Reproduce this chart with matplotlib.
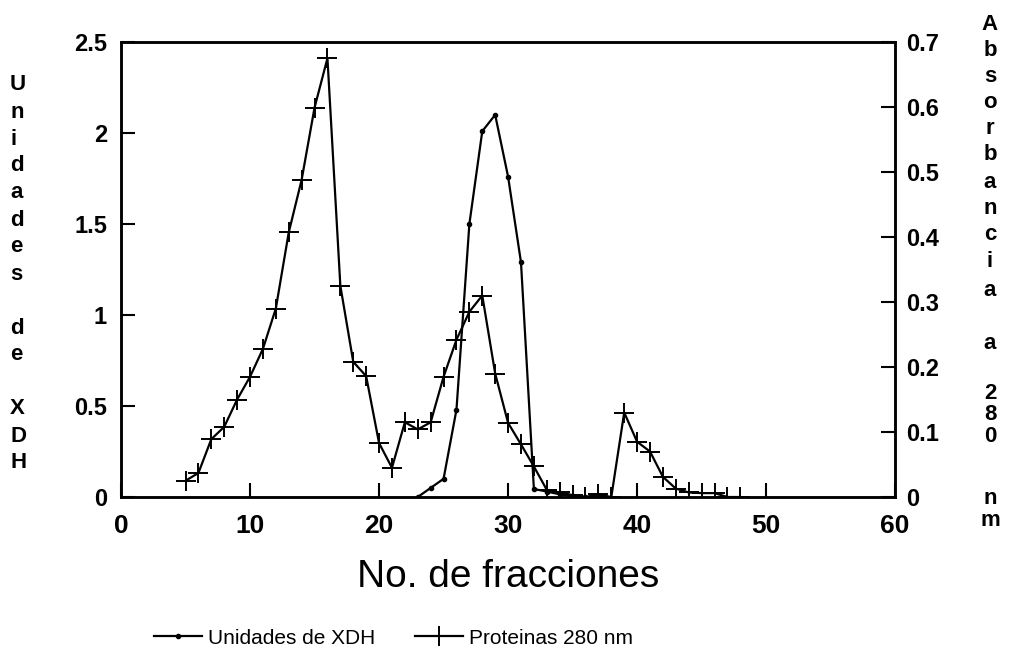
import matplotlib
matplotlib.use('Agg')
import matplotlib.pyplot as plt
import numpy as np

# Fracciones con actividad de XDH y su valor
xdh_frac = [23, 24, 25, 26, 27, 28, 29, 30, 31, 32, 33, 34, 35, 36, 37]
xdh_units = [0.0, 0.05, 0.10, 0.48, 1.50, 2.01, 2.10, 1.76, 1.29, 0.044, 0.03, 0.015, 0.005, 0.0, 0.0]

# Fracciones con absorbancia a 280 nm (proteinas)
prot_frac = list(range(5, 49))
prot_abs = [0.025, 0.037, 0.089, 0.108, 0.150, 0.185, 0.228, 0.290, 0.407, 0.488,
            0.599, 0.675, 0.325, 0.208, 0.186, 0.083, 0.045, 0.115, 0.104, 0.115,
            0.185, 0.242, 0.285, 0.310, 0.190, 0.114, 0.081, 0.047, 0.011, 0.007,
            0.003, 0.0, 0.004, 0.0, 0.130, 0.085, 0.070, 0.031, 0.013, 0.007,
            0.006, 0.006, 0.0, 0.0]

left_ticks = [0, 0.5, 1, 1.5, 2, 2.5]
left_tick_labels = ['0', '0.5', '1', '1.5', '2', '2.5']
right_ticks = [0, 0.1, 0.2, 0.3, 0.4, 0.5, 0.6, 0.7]
right_tick_labels = ['0', '0.1', '0.2', '0.3', '0.4', '0.5', '0.6', '0.7']
x_ticks = [0, 10, 20, 30, 40, 50, 60]

left_label = 'Unidades de XDH'
right_label = ['A', 'b', 's', 'o', 'r', 'b', 'a', 'n', 'c', 'i', 'a', ' ', 'a', ' ',
               '2', '8', '0', ' ', ' ', 'n', 'm']

plt.rcParams['font.family'] = ['Liberation Sans', 'DejaVu Sans']

fig = plt.figure(figsize=(10.1, 6.65), dpi=100, facecolor='white')
ax = fig.add_axes([0.1198, 0.2526, 0.7665, 0.6842])
ax2 = ax.twinx()

l1, = ax.plot(xdh_frac, xdh_units, color='black', linewidth=1.6,
              marker='o', markersize=3, label='Unidades de XDH')
l2, = ax2.plot(prot_frac, prot_abs, color='black', linewidth=1.6,
               marker='+', markersize=14, markeredgewidth=1.4, label='Proteinas 280 nm')

ax.set_xlim(0, 60)
ax.set_ylim(0, 2.5)
ax2.set_ylim(0, 0.7)

ax.set_xticks(x_ticks)
ax.set_yticks(left_ticks)
ax.set_yticklabels(left_tick_labels)
ax2.set_yticks(right_ticks)
ax2.set_yticklabels(right_tick_labels)

ax.tick_params(axis='x', direction='in', length=10, width=1.5, pad=12, labelsize=19, top=False)
ax.tick_params(axis='y', direction='in', length=10, width=1.5, pad=10, labelsize=17, right=False)
ax2.tick_params(axis='y', direction='in', length=10, width=1.5, pad=8, labelsize=17)
for lab in ax.get_xticklabels() + ax.get_yticklabels() + ax2.get_yticklabels():
    lab.set_fontweight('bold')

for a in (ax, ax2):
    for s in a.spines.values():
        s.set_linewidth(1.8)

ax.set_xlabel('No. de fracciones', fontsize=28, labelpad=15)

# Etiquetas verticales, una letra por linea
ys = 1 - np.arange(len(left_label)) * 27 / 665 - 85 / 665
for ch, y in zip(left_label, ys):
    if ch != ' ':
        fig.text(10 / 1010, y, ch, fontsize=16, fontweight='bold', ha='left', va='center')

right_y = [24, 50, 76, 102, 128, 155, 182, 208, 235, 262, 290, 316, 343, 368, 393, 415, 437, 458, 478, 498, 521]
for ch, y in zip(right_label, right_y):
    if ch != ' ':
        fig.text(990 / 1010, 1 - y / 665, ch, fontsize=16, fontweight='bold', ha='center', va='center')

fig.legend(handles=[l1, l2], loc='center', bbox_to_anchor=(0.39, 1 - 638 / 665), ncol=2,
           frameon=False, fontsize=15, handlelength=2.3, columnspacing=1.9, handletextpad=0.3)

plt.savefig('out.png', dpi=100, facecolor='white')
